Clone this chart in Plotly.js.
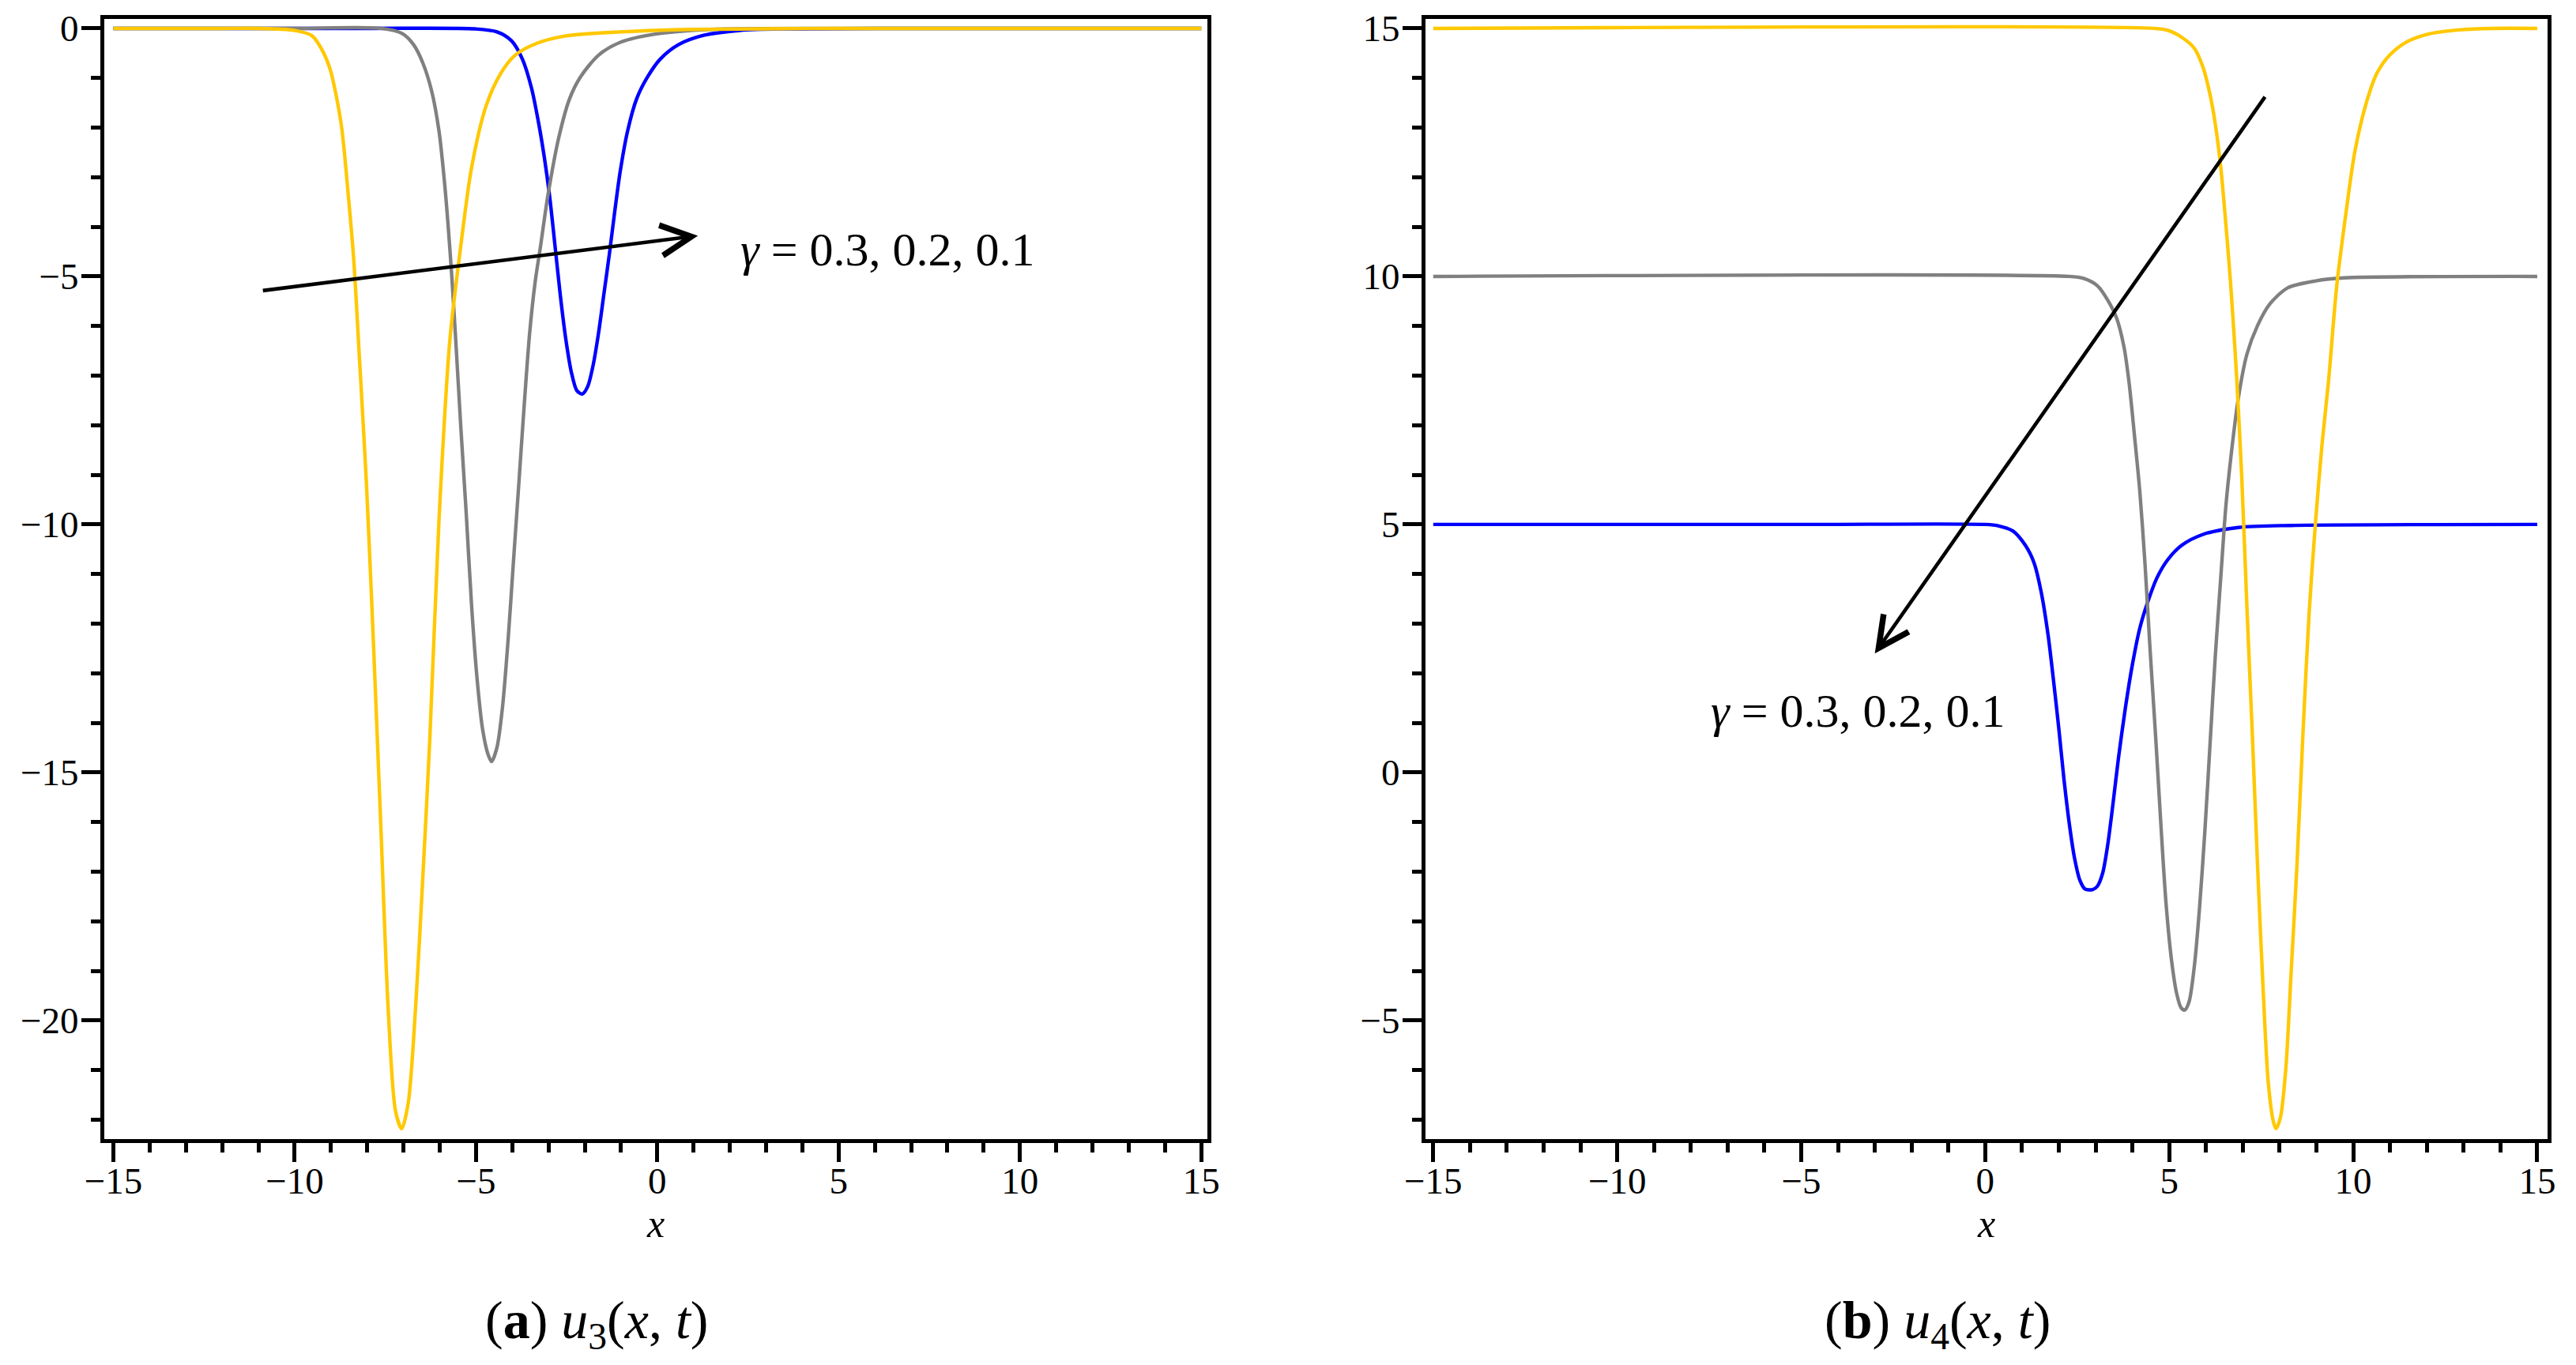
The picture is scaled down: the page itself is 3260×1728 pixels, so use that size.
<!DOCTYPE html>
<html>
<head>
<meta charset="utf-8">
<script src="https://cdn.plot.ly/plotly-3.0.1.min.js"></script>
<style>
  html, body { margin: 0; padding: 0; background: #fff; }
  #chart { width: 3260px; height: 1728px; }
</style>
</head>
<body>
<div id="chart"></div>
<script>
// u3(x,t) — left panel
const blue3X = [-15, -8, -5.02, -4.42, -4.02, -3.72, -3.47, -3.27, -3.12, -2.97, -2.82, -2.67, -2.52, -2.37, -2.22, -2.07, -1.92, -1.77, -1.62, -1.47, -1.32, -1.17, -1.02, -0.82, -0.57, -0.27, 0.08, 0.58, 1.28, 2.28, 3.48, 8, 15];
const blue3Y = [0, 0, -0.01, -0.07, -0.25, -0.62, -1.20, -1.92, -2.58, -3.38, -4.39, -5.41, -6.28, -6.93, -7.30, -7.37, -7.22, -6.79, -6.14, -5.34, -4.54, -3.67, -2.87, -2.07, -1.42, -0.98, -0.62, -0.33, -0.14, -0.04, -0.01, 0, 0];

const gray3X = [-15, -10, -7.62, -7.02, -6.72, -6.47, -6.22, -6.02, -5.87, -5.77, -5.67, -5.57, -5.42, -5.27, -5.12, -4.97, -4.82, -4.67, -4.57, -4.42, -4.27, -4.12, -3.97, -3.82, -3.67, -3.52, -3.37, -3.22, -3.02, -2.72, -2.42, -2.12, -1.62, -1.02, -0.02, 1.48, 5, 15];
const gray3Y = [0, 0, 0, -0.11, -0.33, -0.69, -1.27, -2.07, -3.09, -3.96, -4.97, -6.14, -8.02, -9.77, -11.65, -13.11, -14.12, -14.63, -14.78, -14.49, -13.69, -12.38, -10.78, -9.19, -7.59, -6.14, -5.12, -4.39, -3.38, -2.21, -1.42, -0.98, -0.54, -0.28, -0.11, -0.02, 0, 0];

const yellow3X = [-15, -12.02, -11.02, -10.02, -9.52, -9.27, -9.02, -8.72, -8.52, -8.37, -8.22, -8.02, -7.82, -7.62, -7.42, -7.22, -7.05, -6.87, -6.67, -6.47, -6.27, -6.02, -5.72, -5.42, -5.12, -4.72, -4.32, -3.92, -3.32, -2.52, -1.02, 0.98, 5, 15];
const yellow3Y = [0, 0, 0, -0.04, -0.15, -0.40, -0.83, -1.92, -3.38, -4.68, -6.57, -9.19, -12.53, -16.16, -19.79, -21.82, -22.18, -21.67, -19.79, -17.17, -14.27, -9.91, -6.28, -4.39, -2.80, -1.56, -0.91, -0.54, -0.30, -0.15, -0.07, -0.02, 0, 0];

// u4(x,t) — right panel
const blue4X = [-15, -5, 0.0, 0.37, 0.75, 1.09, 1.33, 1.52, 1.71, 1.85, 2.0, 2.14, 2.28, 2.43, 2.57, 2.71, 2.92, 3.05, 3.19, 3.33, 3.48, 3.62, 3.81, 4.0, 4.20, 4.44, 4.67, 4.96, 5.34, 5.92, 6.88, 8.31, 15];
const blue4Y = [5, 5, 5.0, 4.97, 4.87, 4.58, 4.22, 3.64, 2.76, 1.89, 0.88, -0.14, -1.01, -1.74, -2.17, -2.35, -2.36, -2.29, -2.03, -1.45, -0.58, 0.29, 1.31, 2.18, 2.91, 3.49, 3.93, 4.29, 4.58, 4.80, 4.94, 4.98, 5];

const gray4X = [-15, 2.28, 2.67, 3.05, 3.33, 3.57, 3.77, 3.91, 4.05, 4.20, 4.34, 4.48, 4.63, 4.77, 4.91, 5.06, 5.20, 5.32, 5.42, 5.54, 5.68, 5.82, 5.97, 6.11, 6.25, 6.40, 6.54, 6.68, 6.88, 7.11, 7.40, 7.74, 8.22, 8.98, 9.75, 15];
const gray4Y = [10, 10, 9.96, 9.81, 9.52, 9.16, 8.58, 7.85, 6.83, 5.67, 4.22, 2.47, 0.73, -1.01, -2.61, -3.77, -4.45, -4.74, -4.79, -4.62, -3.92, -2.76, -1.16, 0.59, 2.33, 3.93, 5.38, 6.39, 7.56, 8.43, 9.01, 9.45, 9.77, 9.91, 9.97, 10];

const yellow4X = [-15, 4.58, 4.96, 5.34, 5.68, 5.92, 6.11, 6.25, 6.40, 6.54, 6.68, 6.83, 6.97, 7.11, 7.26, 7.40, 7.55, 7.69, 7.83, 7.90, 8.02, 8.17, 8.31, 8.47, 8.63, 8.80, 8.97, 9.15, 9.33, 9.55, 9.81, 10.04, 10.34, 10.64, 10.99, 11.46, 12.06, 12.88, 13.82, 15];
const yellow4Y = [15, 15.0, 14.96, 14.82, 14.60, 14.21, 13.66, 13.08, 12.20, 11.04, 9.73, 7.99, 5.96, 3.35, 0.73, -1.88, -4.35, -6.24, -7.04, -7.18, -6.96, -5.95, -4.06, -1.88, 0.73, 3.20, 5.0, 6.6, 7.9, 9.8, 11.32, 12.50, 13.46, 14.09, 14.46, 14.73, 14.89, 14.97, 15.0, 15];

// arrows (tail -> head) and label anchors, in data units
const arrow3Tail = [-10.92, -5.29];
const arrow3Head = [1.12, -4.18];
const label3At = [2.25, -4.46];
const arrow4Tail = [7.64, 13.66];
const arrow4Head = [-3.0, 2.40];
const label4At = [-7.51, 1.24];
const gammaLabel = "<i>γ</i> = 0.3, 0.2, 0.1";
const captions = ["(<b>a</b>)&nbsp;<i>u</i><sub>3</sub>(<i>x</i>, <i>t</i>)", "(<b>b</b>)&nbsp;<i>u</i><sub>4</sub>(<i>x</i>, <i>t</i>)"];

const BLUE = "#0000ff";
const GRAY = "#808080";
const GOLD = "#ffc800";
const SERIF = "Liberation Serif";

function curve(x, y, color, xa, ya) {
  return {
    x, y, xaxis: xa, yaxis: ya,
    type: "scatter", mode: "lines",
    line: { color, width: 4.4, shape: "spline", smoothing: 0.8 },
    hoverinfo: "skip",
  };
}

const traces = [
  curve(blue3X, blue3Y, BLUE, "x", "y"),
  curve(gray3X, gray3Y, GRAY, "x", "y"),
  curve(yellow3X, yellow3Y, GOLD, "x", "y"),
  curve(blue4X, blue4Y, BLUE, "x2", "y2"),
  curve(gray4X, gray4Y, GRAY, "x2", "y2"),
  curve(yellow4X, yellow4Y, GOLD, "x2", "y2"),
];

const axisBase = {
  showline: true, linecolor: "black", linewidth: 5, mirror: true,
  showgrid: false, zeroline: false,
  ticks: "outside", ticklen: 24, tickwidth: 5, tickcolor: "black",
  tick0: 0, dtick: 5,
  minor: { dtick: 1, ticks: "outside", ticklen: 12, tickwidth: 5, tickcolor: "black", showgrid: false },
  tickfont: { family: SERIF, size: 47, color: "black" },
};

function xAxis(domain, range, anchor) {
  return {
    ...axisBase, domain, range, anchor,
    ticklabelstandoff: -16,
    title: { text: "<i>x</i>", font: { family: SERIF, size: 50, color: "black" }, standoff: 0 },
  };
}
function yAxis(range, anchor) {
  return { ...axisBase, domain: [1 - 1442 / 1728, 1 - 24 / 1728], range, anchor, ticklabelstandoff: -6 };
}

function arrow(tail, head, xa, ya) {
  return {
    x: head[0], y: head[1], xref: xa, yref: ya,
    ax: tail[0], ay: tail[1], axref: xa, ayref: ya,
    text: " ", font: { size: 2 },
    showarrow: true, arrowhead: 5, arrowsize: 1.65, arrowwidth: 4.6,
    arrowcolor: "black", standoff: 0, startstandoff: 0,
  };
}
function label(at, xa, ya) {
  return {
    x: at[0], y: at[1], xref: xa, yref: ya,
    text: gammaLabel, showarrow: false,
    xanchor: "left", yanchor: "middle",
    font: { family: SERIF, size: 60, color: "black" },
  };
}
function caption(text, xc) {
  return {
    x: xc, y: 1 - 1675 / 1728, xref: "paper", yref: "paper",
    text, showarrow: false, xanchor: "center", yanchor: "middle",
    font: { family: SERIF, size: 68, color: "black" },
  };
}

const layout = {
  width: 3260, height: 1728,
  margin: { l: 0, r: 0, t: 0, b: 0 },
  paper_bgcolor: "#ffffff", plot_bgcolor: "#ffffff",
  showlegend: false,
  font: { family: SERIF, color: "black" },
  xaxis: xAxis([132 / 3260, 1528 / 3260], [-15.25, 15.17], "y"),
  yaxis: yAxis([-22.39, 0.19], "x"),
  xaxis2: xAxis([1804 / 3260, 3224 / 3260], [-15.21, 15.28], "y2"),
  yaxis2: yAxis([-7.39, 15.19], "x2"),
  annotations: [
    arrow(arrow3Tail, arrow3Head, "x", "y"),
    label(label3At, "x", "y"),
    arrow(arrow4Tail, arrow4Head, "x2", "y2"),
    label(label4At, "x2", "y2"),
    caption(captions[0], 755 / 3260),
    caption(captions[1], 2452 / 3260),
  ],
};

Plotly.newPlot("chart", traces, layout, { displayModeBar: false, staticPlot: true });
</script>
</body>
</html>
